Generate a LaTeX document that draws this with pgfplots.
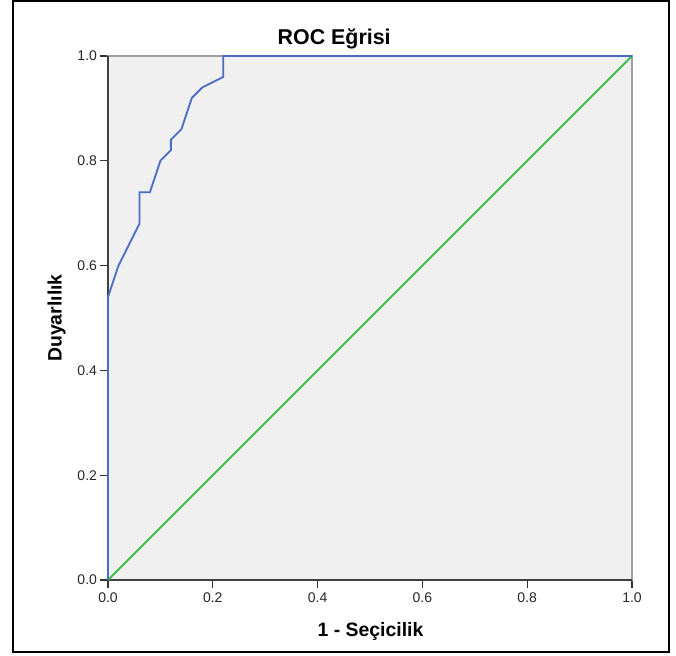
\documentclass[border=0pt]{standalone}
\usepackage{pgfplots}
\pgfplotsset{compat=1.18}
\usepackage{fontspec}
\setmainfont{Liberation Sans}
\definecolor{roc}{HTML}{4A6BC6}
\definecolor{diag}{HTML}{3CC04A}
\definecolor{bgfill}{HTML}{F0F0F0}
\begin{document}
\begin{tikzpicture}
\begin{axis}[
  scale only axis,
  width=262pt, height=262pt,
  xmin=0, xmax=1, ymin=0, ymax=1,
  axis background/.style={fill=bgfill},
  axis line style={draw=gray!75, line width=0.6pt},
  xtick={0,0.2,0.4,0.6,0.8,1.0},
  ytick={0,0.2,0.4,0.6,0.8,1.0},
  xtick pos=bottom, ytick pos=left,
  tick align=outside,
  major tick length=4pt,
  tick style={draw=black!80, line width=0.6pt},
  /pgf/number format/assume math mode=true,
  /pgf/number format/.cd, fixed, fixed zerofill, precision=1, /pgfplots/.cd,
  tick label style={font=\fontsize{7}{8}\selectfont, text=black!85},
  xticklabel style={yshift=1pt},
  yticklabel style={xshift=2pt},
  xlabel={1 - Seçicilik},
  ylabel={Duyarlılık},
  xlabel style={font=\fontsize{9.7}{11}\selectfont\bfseries, at={(axis description cs:0.501,-0.1082)}, anchor=base},
  ylabel style={font=\fontsize{9.7}{11}\selectfont\bfseries, at={(axis description cs:-0.0884,0.5)}, anchor=base},
  clip=false,
]
\draw[black!75, line width=0.7pt] (axis cs:0,1) -- (axis cs:0,0) -- (axis cs:1,0);
\addplot[diag, line width=0.9pt] coordinates {(0,0) (1,1)};
\addplot[roc, line width=0.9pt] coordinates {
(0,0) (0,0.54) (0.02,0.60) (0.06,0.68) (0.06,0.74) (0.08,0.74) (0.10,0.80)
(0.12,0.82) (0.12,0.84) (0.14,0.86) (0.16,0.92) (0.18,0.94) (0.22,0.96)
(0.22,1.0) (1,1)};
\node[font=\fontsize{10.7}{12}\selectfont\bfseries, anchor=base] at (axis description cs:0.4317,1.0223) {ROC Eğrisi};
\end{axis}
\draw[black, line width=1pt] (-47.5pt,-36pt) rectangle (280.5pt,289.5pt);
\pgfresetboundingbox
\path[use as bounding box] (-54pt,-37.5pt) rectangle (284pt,290pt);
\end{tikzpicture}
\end{document}
